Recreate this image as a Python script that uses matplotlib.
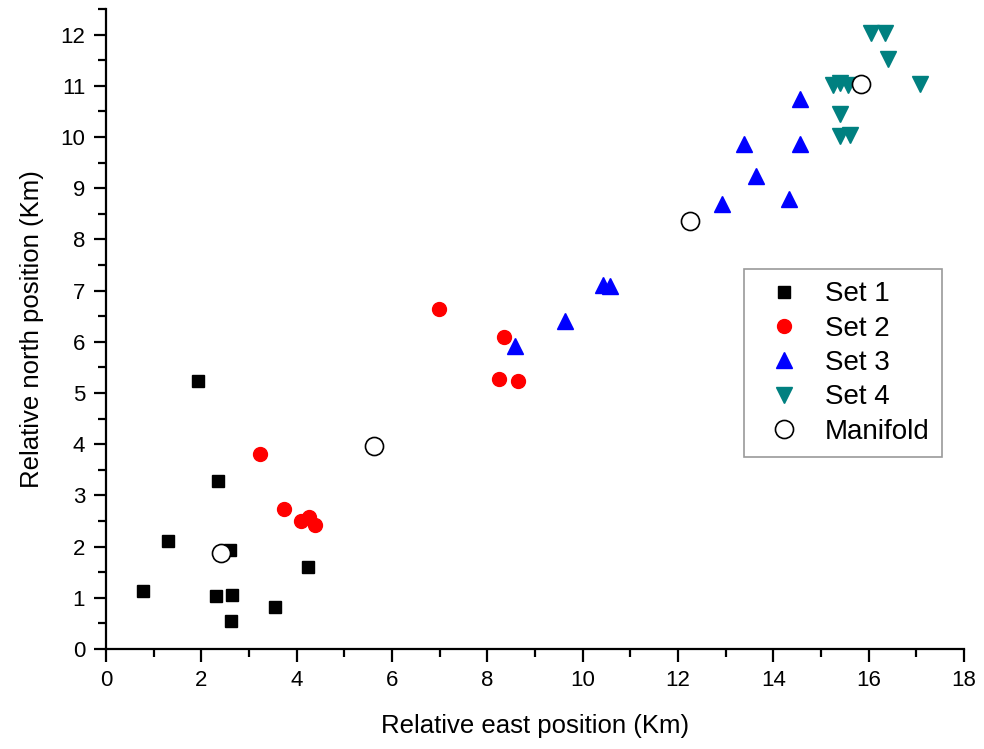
import matplotlib.pyplot as plt
import numpy as np

plt.rcParams['font.family'] = ['Liberation Sans', 'DejaVu Sans']

# Set 1 (black squares)
set1_x = [1.94, 2.35, 1.30, 2.61, 0.77, 2.31, 2.65, 2.63, 3.54, 4.23]
set1_y = [5.24, 3.28, 2.11, 1.93, 1.14, 1.04, 1.05, 0.55, 0.83, 1.61]

# Set 2 (red circles)
set2_x = [3.24, 3.73, 4.09, 4.26, 4.39, 6.98, 8.34, 8.24, 8.64]
set2_y = [3.80, 2.74, 2.50, 2.57, 2.42, 6.65, 6.10, 5.27, 5.24]

# Set 3 (blue up triangles)
set3_x = [8.58, 9.62, 10.43, 10.57, 12.93, 13.64, 13.38, 14.56, 14.33, 14.55]
set3_y = [5.92, 6.40, 7.11, 7.09, 8.70, 9.24, 9.87, 9.87, 8.79, 10.75]

# Set 4 (teal down triangles)
set4_x = [16.04, 16.35, 16.40, 17.08, 15.25, 15.39, 15.56, 15.39, 15.39, 15.60]
set4_y = [12.03, 12.03, 11.52, 11.04, 11.02, 11.05, 11.02, 10.45, 10.01, 10.04]

# Manifolds
man_x = [2.42, 5.62, 12.25, 15.83]
man_y = [1.88, 3.97, 8.35, 11.04]

fig = plt.figure(figsize=(9.84, 7.49), dpi=100)
ax = fig.add_axes([0.1077, 0.1335, 0.872, 0.8545])

ax.plot(set1_x, set1_y, 's', color='black', markersize=9, linestyle='none', label='Set 1')
ax.plot(set2_x, set2_y, 'o', color='#ff0000', markersize=10, linestyle='none', label='Set 2')
ax.plot(set3_x, set3_y, '^', color='#0000ff', markersize=11, linestyle='none', label='Set 3')
ax.plot(set4_x, set4_y, 'v', color='#008080', markersize=11, linestyle='none', label='Set 4')
ax.plot(man_x, man_y, 'o', markerfacecolor='white', markeredgecolor='black',
        markeredgewidth=1.2, markersize=13, linestyle='none', label='Manifold')

ax.set_xlim(0, 18)
ax.set_ylim(0, 12.5)
ax.set_xticks(np.arange(0, 19, 2))
ax.set_xticks(np.arange(1, 18, 2), minor=True)
ax.set_yticks(np.arange(0, 13, 1))
ax.set_yticks(np.arange(0.5, 13, 1), minor=True)

for s in ['top', 'right']:
    ax.spines[s].set_visible(False)
for s in ['left', 'bottom']:
    ax.spines[s].set_linewidth(1.6)

ax.tick_params(which='major', direction='out', length=9, width=1.6, labelsize=16, pad=6)
ax.tick_params(which='minor', direction='out', length=5.5, width=1.6)

ax.set_xlabel('Relative east position (Km)', fontsize=18.5, labelpad=17)
ax.set_ylabel('Relative north position (Km)', fontsize=18.5, labelpad=12)

leg = ax.legend(loc='upper left', bbox_to_anchor=(0.7436, 0.594), borderaxespad=0,
                fontsize=20, frameon=True, fancybox=False, edgecolor='#808080',
                handletextpad=0.45, borderpad=0.45, labelspacing=0.3, handlelength=2.0)
leg.get_frame().set_linewidth(1.2)

fig.savefig('out.png', dpi=100)
